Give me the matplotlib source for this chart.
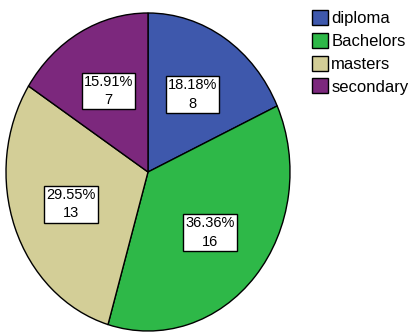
import matplotlib
matplotlib.use("Agg")
import matplotlib.pyplot as plt

categories = ["diploma", "Bachelors", "masters", "secondary"]
counts = [8, 16, 13, 7]
colors = ["#3E58AC", "#2EB848", "#D3CE97", "#7C287D"]

W, H = 412, 332
fig = plt.figure(figsize=(W / 100, H / 100), dpi=100)
ax = fig.add_axes([0, 0, 1, 1])

# pie centre and radii in pixels (the pie is drawn slightly taller than wide)
cx, cy, rx, ry = 148, 172, 142, 159

total = sum(counts)
wedges, texts, autotexts = ax.pie(
    counts,
    colors=colors,
    startangle=90,
    counterclock=False,
    wedgeprops=dict(edgecolor="black", linewidth=1),
    autopct=lambda p: f"{p:.2f}%\n{round(p * total / 100):d}",
    pctdistance=0.58,
    textprops=dict(family="Liberation Sans", fontsize=10.5, linespacing=1.4),
)
for t in autotexts:
    t.set_ha("center")
    t.set_va("center")
    t.set_bbox(dict(facecolor="white", edgecolor="black", linewidth=1,
                    boxstyle="square,pad=0.15"))

ax.set_aspect("auto")
ax.set_xlim(-cx / rx, (W - cx) / rx)
ax.set_ylim((cy - H) / ry, cy / ry)
ax.axis("off")

fig.legend(
    wedges, categories,
    loc="upper left", bbox_to_anchor=(312 / W, 1 - 10 / H),
    frameon=False,
    prop=dict(family="Liberation Sans", size=12),
    handlelength=0.95, handleheight=1.0, handletextpad=0.2,
    labelspacing=0.4, borderaxespad=0, borderpad=0,
)

fig.savefig("out.png", dpi=100, facecolor="white")
